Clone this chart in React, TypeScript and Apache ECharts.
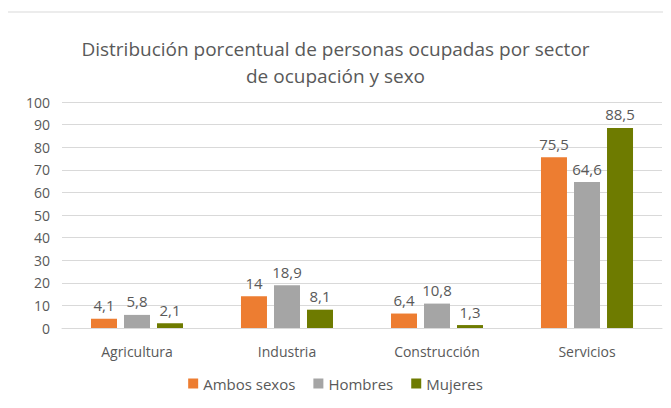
import React, { useEffect, useRef } from "react";
import * as echarts from "echarts";

const categories = ["Agricultura", "Industria", "Construcción", "Servicios"];
const ambos = [4.1, 14, 6.4, 75.5];
const hombres = [5.8, 18.9, 10.8, 64.6];
const mujeres = [2.1, 8.1, 1.3, 88.5];
const seriesNames = ["Ambos sexos", "Hombres", "Mujeres"];
const colors = ["#ED7D31", "#A5A5A5", "#6E7B00"];

export default function App() {
  const ref = useRef<HTMLDivElement>(null);
  useEffect(() => {
    if (!ref.current) return;
    const chart = echarts.init(ref.current, undefined, { renderer: "svg" });
    const font = "'Open Sans', sans-serif";
    const fmt = (p: any) => String(p.value).replace(".", ",");
    const mk = (name: string, data: number[], color: string) => ({
      name,
      type: "bar",
      data,
      barWidth: 26,
      barGap: "27%",
      itemStyle: { color },
      label: {
        show: true,
        position: "top",
        distance: 6,
        formatter: fmt,
        color: "#595959",
        fontSize: 15,
        fontFamily: font,
      },
    });
    chart.setOption({
      animation: false,
      backgroundColor: "#fff",
      title: {
        text: "Distribución porcentual de personas ocupadas por sector\nde ocupación y sexo",
        left: "center",
        top: 30,
        textStyle: {
          color: "#595959",
          fontSize: 19,
          fontWeight: "normal",
          fontFamily: font,
          lineHeight: 27,
        },
      },
      graphic: [
        {
          type: "rect",
          shape: { x: 7, y: 12, width: 680, height: 420 },
          style: { fill: "none", stroke: "#D9D9D9", lineWidth: 1 },
          z: -1,
        },
      ],
      legend: {
        bottom: 12,
        left: "center",
        itemWidth: 10,
        itemHeight: 10,
        itemGap: 18,
        icon: "rect",
        textStyle: { color: "#595959", fontSize: 15, fontFamily: font },
        data: seriesNames,
      },
      grid: { left: 62, right: 9, top: 102, bottom: 80 },
      xAxis: {
        type: "category",
        data: categories,
        axisLine: { lineStyle: { color: "#D9D9D9" } },
        axisTick: { show: false },
        axisLabel: { color: "#595959", fontSize: 14, fontFamily: font, margin: 16 },
      },
      yAxis: {
        type: "value",
        min: 0,
        max: 100,
        interval: 10,
        axisLine: { show: false },
        axisTick: { show: false },
        splitLine: { lineStyle: { color: "#D9D9D9" } },
        axisLabel: { color: "#595959", fontSize: 14, fontFamily: font, margin: 12 },
      },
      series: [
        mk(seriesNames[0], ambos, colors[0]),
        mk(seriesNames[1], hombres, colors[1]),
        mk(seriesNames[2], mujeres, colors[2]),
      ],
    });
    return () => chart.dispose();
  }, []);
  return <div ref={ref} style={{ width: 671, height: 408, margin: -8 }} />;
}
